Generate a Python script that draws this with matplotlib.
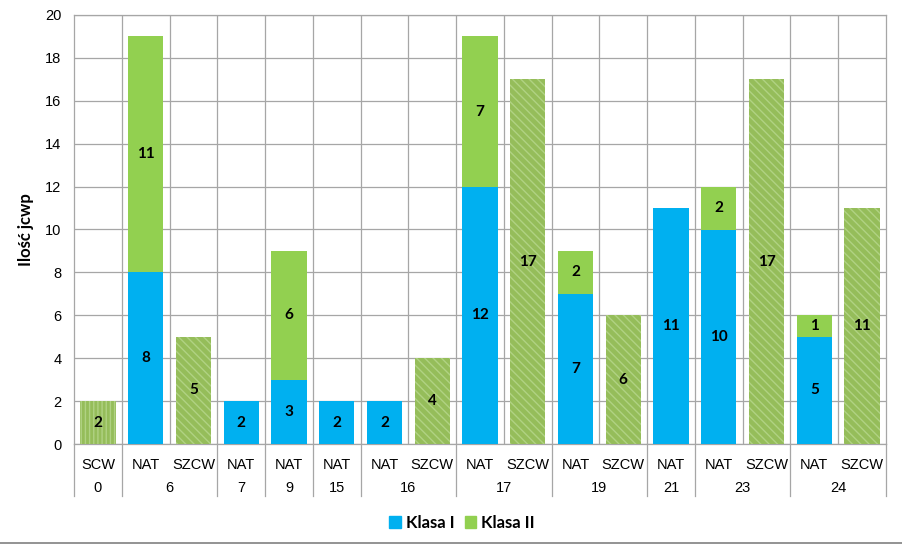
import matplotlib.pyplot as plt
from matplotlib.lines import Line2D
from matplotlib.patches import Patch
import matplotlib.transforms as mtransforms

# kategorie (typ, grupa)
types = ['SCW', 'NAT', 'SZCW', 'NAT', 'NAT', 'NAT', 'NAT', 'SZCW', 'NAT', 'SZCW',
         'NAT', 'SZCW', 'NAT', 'NAT', 'SZCW', 'NAT', 'SZCW']
groups = ['0', '6', '6', '7', '9', '15', '16', '16', '17', '17',
          '19', '19', '21', '23', '23', '24', '24']
klasa1 = [0, 8, 0, 2, 3, 2, 2, 0, 12, 0, 7, 0, 11, 10, 0, 5, 0]
klasa2 = [2, 11, 5, 0, 6, 0, 0, 4, 7, 17, 2, 6, 0, 2, 17, 1, 11]

blue = '#00B0F0'
green = '#92D050'
hatch_face = '#95BD5A'
hatch_line = '#B0D283'
hatch_by_type = {'SCW': '||||', 'SZCW': '\\\\\\\\'}

plt.rcParams['font.family'] = ['Liberation Sans', 'DejaVu Sans']
plt.rcParams['hatch.linewidth'] = 1.0

fig = plt.figure(figsize=(9.02, 5.45), dpi=100)
ax = fig.add_axes([74 / 902, 1 - 444 / 545, (886 - 74) / 902, (444 - 15) / 545])

x = list(range(len(types)))
w = 0.74
bold_font = dict(family=['Lato', 'DejaVu Sans'], fontweight='bold', fontsize=11)

for i in x:
    if klasa1[i] > 0:
        ax.bar(i, klasa1[i], width=w, color=blue, zorder=3)
        ax.text(i, klasa1[i] / 2, str(klasa1[i]), ha='center', va='center', zorder=4, **bold_font)
    if klasa2[i] > 0:
        if types[i] in hatch_by_type:
            ax.bar(i, klasa2[i], width=w, bottom=klasa1[i], facecolor=hatch_face,
                   edgecolor=hatch_line, hatch=hatch_by_type[types[i]], linewidth=0, zorder=3)
        else:
            ax.bar(i, klasa2[i], width=w, bottom=klasa1[i], color=green, zorder=3)
        ax.text(i, klasa1[i] + klasa2[i] / 2, str(klasa2[i]), ha='center', va='center',
                zorder=4, **bold_font)

ax.set_xlim(-0.5, len(types) - 0.5)
ax.set_ylim(0, 20)
ax.set_yticks(range(0, 21, 2))
ax.tick_params(axis='y', length=0, labelsize=10.5, pad=9)
ax.set_xticks([])
ax.grid(axis='y', color='#A6A6A6', linewidth=0.9, zorder=0)
for b in range(1, len(types)):
    ax.axvline(b - 0.5, color='#A6A6A6', linewidth=0.9, zorder=0)
for s in ax.spines.values():
    s.set_color('#A6A6A6')
    s.set_linewidth(0.9)

ax.set_ylabel('Ilość jcwp', family=['Lato', 'DejaVu Sans'], fontweight='bold', fontsize=12, labelpad=8)

# dwupoziomowe etykiety osi X
trans = mtransforms.blended_transform_factory(ax.transData, ax.transAxes)
row1 = -21 / 429
row2 = -44 / 429
bottom = -52 / 429
for i in x:
    ax.text(i, row1, types[i], transform=trans, ha='center', va='center', fontsize=10.5)
starts = [0]
for i in range(1, len(groups)):
    if groups[i] != groups[i - 1]:
        starts.append(i)
ends = starts[1:] + [len(groups)]
for s, e in zip(starts, ends):
    ax.text((s + e - 1) / 2, row2, groups[s], transform=trans, ha='center', va='center', fontsize=10.5)
for b in starts + [len(groups)]:
    ax.add_line(Line2D([b - 0.5, b - 0.5], [0, bottom], transform=trans, color='#A6A6A6',
                       linewidth=0.9, clip_on=False))

handles = [Patch(color=blue, label='Klasa I'), Patch(color=green, label='Klasa II')]
fig.legend(handles=handles, loc='center', bbox_to_anchor=(462 / 902, 1 - 523 / 545), ncol=2,
           frameon=False, handlelength=0.7, handleheight=0.7, handletextpad=0.3, columnspacing=0.6,
           prop=dict(family=['Lato', 'DejaVu Sans'], weight='bold', size=12))

fig.add_artist(Line2D([0, 1], [2 / 545, 2 / 545], color='#808080', linewidth=1.2))

fig.savefig('out.png', dpi=100)
